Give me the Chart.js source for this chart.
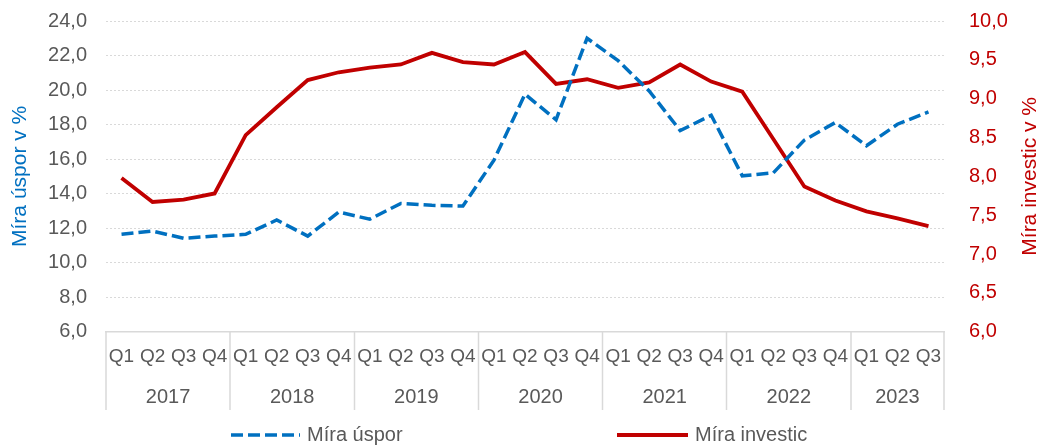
<!DOCTYPE html>
<html>
<head>
<meta charset="utf-8">
<script src="https://cdn.jsdelivr.net/npm/chart.js@4/dist/chart.umd.min.js"></script>
<style>
  html, body { margin: 0; padding: 0; background: #ffffff; }
  #wrap { width: 1040px; height: 445px; position: relative; }
</style>
</head>
<body>
<div id="wrap"><canvas id="c" width="1040" height="445"></canvas></div>
<script>
// ---- data ----
const quarterLabels = ['Q1','Q2','Q3','Q4','Q1','Q2','Q3','Q4','Q1','Q2','Q3','Q4','Q1','Q2','Q3','Q4','Q1','Q2','Q3','Q4','Q1','Q2','Q3','Q4','Q1','Q2','Q3'];
const yearLabels = ['2017','2018','2019','2020','2021','2022','2023'];
const quartersPerYear = [4,4,4,4,4,4,3];
const savingsRate = [11.65, 11.83, 11.41, 11.54, 11.64, 12.47, 11.54, 12.93, 12.52, 13.43, 13.32, 13.28, 15.94, 19.76, 18.28, 23.0, 21.7, 19.95, 17.65, 18.54, 15.03, 15.2, 17.1, 18.12, 16.77, 18.02, 18.73];
const investmentRate = [7.98, 7.67, 7.70, 7.78, 8.53, 8.89, 9.24, 9.34, 9.40, 9.44, 9.59, 9.47, 9.44, 9.60, 9.19, 9.25, 9.14, 9.21, 9.44, 9.22, 9.09, 8.48, 7.87, 7.69, 7.55, 7.46, 7.36];
const seriesNames = ['Míra úspor', 'Míra investic'];
const leftTitle = 'Míra úspor v %';
const rightTitle = 'Míra investic v %';

const FONT = "'Liberation Sans', Arial, sans-serif";
const GREY = '#595959';
const BLUE = '#0070C0';
const RED = '#C00000';
const LINE_GREY = '#d9d9d9';

const fmt = v => Number(v).toFixed(1).replace('.', ',');

const decorPlugin = {
  id: 'decor',
  afterDraw(chart) {
    const ctx = chart.ctx;
    const xs = chart.scales.x;
    const area = chart.chartArea;
    ctx.save();
    // year separators and year labels
    ctx.strokeStyle = LINE_GREY;
    ctx.lineWidth = 1.5;
    let start = 0;
    const bounds = [];
    for (let g = 0; g < quartersPerYear.length; g++) {
      const end = start + quartersPerYear[g] - 1;
      const left = start === 0 ? xs.left : (xs.getPixelForValue(start) + xs.getPixelForValue(start - 1)) / 2;
      const right = end === quarterLabels.length - 1 ? xs.right : (xs.getPixelForValue(end) + xs.getPixelForValue(end + 1)) / 2;
      bounds.push([left, right]);
      start = end + 1;
    }
    const sepTop = area.bottom, sepBottom = 410;
    const xsSet = new Set();
    bounds.forEach(b => { xsSet.add(Math.round(b[0] * 2) / 2); xsSet.add(Math.round(b[1] * 2) / 2); });
    xsSet.forEach(x => {
      ctx.beginPath();
      ctx.moveTo(x, sepTop);
      ctx.lineTo(x, sepBottom);
      ctx.stroke();
    });
    ctx.fillStyle = GREY;
    ctx.font = '20px ' + FONT;
    ctx.textAlign = 'center';
    ctx.textBaseline = 'middle';
    bounds.forEach((b, i) => {
      ctx.fillText(yearLabels[i], (b[0] + b[1]) / 2, 397);
    });

    // axis titles
    ctx.font = '21px ' + FONT;
    ctx.fillStyle = BLUE;
    ctx.save();
    ctx.translate(20, (area.top + area.bottom) / 2);
    ctx.rotate(-Math.PI / 2);
    ctx.fillText(leftTitle, 0, 0);
    ctx.restore();
    ctx.fillStyle = RED;
    ctx.save();
    ctx.translate(1030, (area.top + area.bottom) / 2);
    ctx.rotate(-Math.PI / 2);
    ctx.fillText(rightTitle, 0, 0);
    ctx.restore();

    // legend
    const ly = 435;
    const items = [
      { x0: 231, x1: 300, tx: 307, ds: chart.data.datasets[0] },
      { x0: 617, x1: 688, tx: 695, ds: chart.data.datasets[1] }
    ];
    ctx.font = '20px ' + FONT;
    ctx.textAlign = 'left';
    items.forEach(it => {
      ctx.save();
      ctx.strokeStyle = it.ds.borderColor;
      ctx.lineWidth = it.ds.borderWidth;
      ctx.setLineDash(it.ds.borderDash || []);
      ctx.lineCap = 'butt';
      ctx.beginPath();
      ctx.moveTo(it.x0, ly);
      ctx.lineTo(it.x1, ly);
      ctx.stroke();
      ctx.restore();
      ctx.fillStyle = GREY;
      ctx.fillText(it.ds.label, it.tx, ly);
    });
    ctx.restore();
  }
};

new Chart(document.getElementById('c'), {
  type: 'line',
  data: {
    labels: quarterLabels,
    datasets: [
      {
        label: seriesNames[0],
        data: savingsRate,
        yAxisID: 'y',
        borderColor: BLUE,
        backgroundColor: BLUE,
        borderWidth: 3.5,
        borderDash: [12, 5],
        pointRadius: 0,
        pointHoverRadius: 0,
        tension: 0,
        fill: false
      },
      {
        label: seriesNames[1],
        data: investmentRate,
        yAxisID: 'y1',
        borderColor: RED,
        backgroundColor: RED,
        borderWidth: 3.8,
        pointRadius: 0,
        pointHoverRadius: 0,
        tension: 0,
        fill: false
      }
    ]
  },
  options: {
    responsive: false,
    animation: false,
    devicePixelRatio: 1,
    layout: { padding: { top: 21, bottom: 0, left: 0, right: 0 } },
    plugins: {
      legend: { display: false },
      tooltip: { enabled: false },
      title: { display: false }
    },
    scales: {
      x: {
        type: 'category',
        offset: true,
        grid: { display: false, drawTicks: false, offset: true },
        border: { display: true, color: LINE_GREY, width: 1.5 },
        ticks: {
          font: { family: FONT, size: 19 },
          color: GREY,
          padding: 14,
          maxRotation: 0,
          minRotation: 0,
          autoSkip: false
        },
        afterFit(s) { s.height = 113.3; }
      },
      y: {
        position: 'left',
        min: 6,
        max: 24,
        ticks: {
          stepSize: 2,
          callback: v => fmt(v),
          font: { family: FONT, size: 20 },
          color: GREY,
          padding: 0
        },
        grid: { color: LINE_GREY, lineWidth: 1, drawTicks: true, tickLength: 19, tickColor: 'rgba(0,0,0,0)' },
        border: { display: false, dash: [2, 2] },
        afterFit(s) { s.width = 106; }
      },
      y1: {
        position: 'right',
        min: 6,
        max: 10,
        ticks: {
          stepSize: 0.5,
          callback: v => fmt(v),
          font: { family: FONT, size: 20 },
          color: RED,
          padding: 0
        },
        grid: { display: false, drawTicks: true, tickLength: 25 },
        border: { display: false },
        afterFit(s) { s.width = 96; }
      }
    }
  },
  plugins: [decorPlugin]
});
</script>
</body>
</html>
